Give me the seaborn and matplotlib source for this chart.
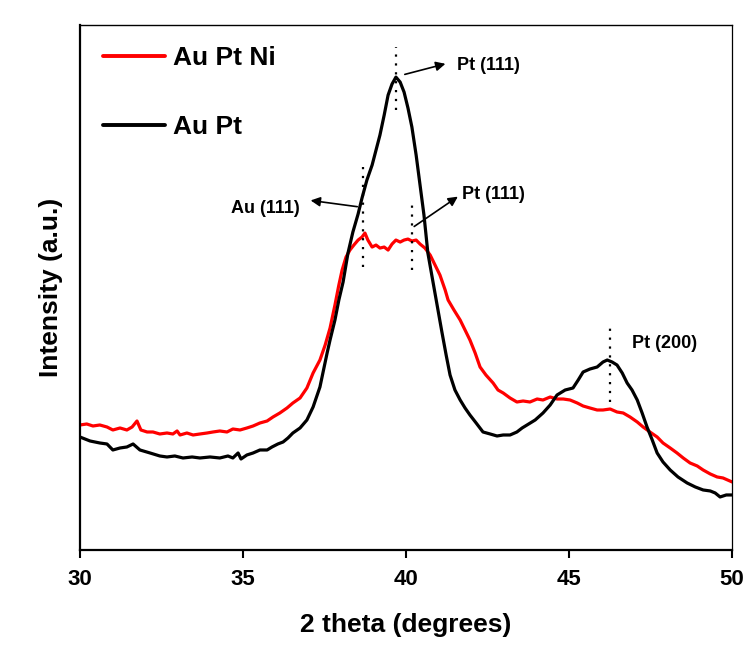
import numpy as np
import pandas as pd
import matplotlib
matplotlib.use('Agg')
import matplotlib.pyplot as plt
import seaborn as sns

# XRD patterns (intensity in arbitrary units)
theta_aupt = [30.00, 30.31, 30.61, 30.83, 31.01, 31.23, 31.44, 31.63, 31.84, 32.15,
              32.45, 32.67, 32.91, 33.16, 33.44, 33.68, 33.99, 34.29, 34.54, 34.69,
              34.85, 34.94, 35.12, 35.31, 35.52, 35.74, 35.89, 36.07, 36.23, 36.38,
              36.53, 36.75, 36.96, 37.15, 37.36, 37.58, 37.67, 37.82, 37.94, 38.07,
              38.22, 38.37, 38.53, 38.65, 38.80, 38.96, 39.08, 39.20, 39.33, 39.45,
              39.57, 39.69, 39.82, 39.94, 40.06, 40.18, 40.31, 40.43, 40.55, 40.67,
              40.80, 40.92, 40.98, 41.10, 41.23, 41.35, 41.50, 41.66, 41.81, 41.96,
              42.15, 42.36, 42.58, 42.79, 42.98, 43.19, 43.40, 43.56, 43.71, 43.96,
              44.20, 44.42, 44.63, 44.88, 45.12, 45.28, 45.43, 45.64, 45.86, 46.04,
              46.17, 46.32, 46.47, 46.63, 46.78, 46.93, 47.09, 47.24, 47.39, 47.55,
              47.70, 47.88, 48.10, 48.34, 48.62, 48.87, 49.11, 49.33, 49.48, 49.63,
              49.82, 50.00]
int_aupt = [113, 109, 107, 106, 100, 102, 103, 106, 100, 97,
            94, 93, 94, 92, 93, 92, 93, 92, 94, 92,
            97, 91, 95, 97, 100, 100, 103, 106, 108, 112,
            117, 122, 130, 143, 163, 197, 210, 230, 250, 268,
            297, 318, 336, 352, 370, 385, 400, 415, 435, 455,
            466, 473, 468, 458, 442, 423, 395, 365, 335, 297,
            273, 251, 240, 218, 195, 175, 160, 150, 142, 135,
            127, 118, 116, 114, 115, 115, 118, 122, 125, 130,
            137, 145, 155, 160, 162, 170, 178, 181, 183, 188,
            190, 188, 185, 177, 167, 160, 150, 137, 123, 110,
            97, 88, 80, 73, 67, 63, 60, 59, 57, 53,
            55, 55]

theta_auptni = [30.00, 30.21, 30.40, 30.61, 30.83, 31.01, 31.23, 31.44, 31.60, 31.75,
                31.87, 32.06, 32.24, 32.45, 32.67, 32.85, 32.98, 33.07, 33.28, 33.47,
                33.68, 33.90, 34.08, 34.29, 34.51, 34.69, 34.91, 35.12, 35.31, 35.52,
                35.74, 35.92, 36.13, 36.35, 36.53, 36.75, 36.96, 37.15, 37.36, 37.52,
                37.67, 37.82, 37.94, 38.04, 38.16, 38.28, 38.40, 38.53, 38.65, 38.74,
                38.83, 38.96, 39.08, 39.20, 39.33, 39.45, 39.57, 39.69, 39.82, 39.94,
                40.06, 40.18, 40.31, 40.43, 40.58, 40.74, 40.89, 41.04, 41.20, 41.29,
                41.47, 41.66, 41.81, 41.96, 42.12, 42.27, 42.45, 42.67, 42.82, 42.98,
                43.19, 43.40, 43.59, 43.80, 44.02, 44.20, 44.42, 44.63, 44.82, 45.03,
                45.25, 45.43, 45.64, 45.86, 46.04, 46.26, 46.47, 46.66, 46.87, 47.09,
                47.27, 47.48, 47.70, 47.88, 48.10, 48.31, 48.50, 48.71, 48.93, 49.11,
                49.33, 49.54, 49.72, 50.00]
int_auptni = [125, 126, 124, 125, 123, 120, 122, 120, 123, 129,
              120, 118, 118, 116, 117, 116, 119, 115, 117, 115,
              116, 117, 118, 119, 118, 121, 120, 122, 124, 127,
              129, 133, 137, 142, 147, 152, 162, 177, 190, 205,
              222, 245, 265, 280, 293, 300, 305, 310, 313, 317,
              310, 303, 305, 302, 303, 300, 306, 310, 308, 310,
              311, 309, 310, 306, 302, 295, 285, 275, 260, 250,
              240, 230, 220, 210, 197, 183, 175, 167, 160, 157,
              152, 148, 149, 148, 151, 150, 153, 151, 151, 150,
              147, 144, 142, 140, 140, 141, 138, 137, 133, 128,
              123, 118, 113, 107, 102, 97, 92, 87, 84, 80,
              76, 73, 72, 68]

series_names = ['Au Pt Ni', 'Au Pt']
series_colors = ['#ff0000', '#000000']

# dotted guide lines at the peaks: (x, y bottom, y top)
peak_lines = [(39.69, 440, 503), (38.68, 283, 383), (40.18, 280, 345), (46.26, 148, 225)]
peak_labels = ['Pt (111)', 'Au (111)', 'Pt (111)', 'Pt (200)']

df = pd.concat([
    pd.DataFrame({'theta': theta_auptni, 'intensity': int_auptni, 'sample': 'Au Pt Ni'}),
    pd.DataFrame({'theta': theta_aupt, 'intensity': int_aupt, 'sample': 'Au Pt'}),
])

sns.set_style('ticks')
plt.rcParams['font.family'] = ['Liberation Sans', 'DejaVu Sans']
plt.rcParams['font.weight'] = 'bold'
plt.rcParams['text.color'] = 'black'
plt.rcParams['axes.labelcolor'] = 'black'
plt.rcParams['xtick.color'] = 'black'
plt.rcParams['ytick.color'] = 'black'

fig = plt.figure(figsize=(7.54, 6.61), dpi=100)
ax = fig.add_axes([0.106, 0.168, 0.865, 0.794])

sns.lineplot(data=df, x='theta', y='intensity', hue='sample', hue_order=series_names,
             palette=series_colors, estimator=None, sort=False, linewidth=2.3, ax=ax)

for xp, y0, y1 in peak_lines:
    ax.plot([xp, xp], [y0, y1], color='black', linestyle=(0, (1, 3)), linewidth=1.6)

arrow = dict(arrowstyle='-|>', color='black', lw=1.2, mutation_scale=14)
tsize = 13
ax.annotate('', xy=(41.29, 487), xytext=(39.88, 475), arrowprops=arrow)
ax.text(41.56, 485, peak_labels[0], fontsize=tsize, fontweight='bold', va='center', ha='left')
ax.annotate('', xy=(36.99, 350), xytext=(38.59, 343), arrowprops=arrow)
ax.text(36.75, 342, peak_labels[1], fontsize=tsize, fontweight='bold', va='center', ha='right')
ax.annotate('', xy=(41.66, 355), xytext=(40.18, 322), arrowprops=arrow)
ax.text(41.72, 356, peak_labels[2], fontsize=tsize, fontweight='bold', va='center', ha='left')
ax.text(46.93, 207, peak_labels[3], fontsize=tsize, fontweight='bold', va='center', ha='left')

ax.set_xlim(30, 50)
ax.set_ylim(0, 525)
ax.set_xticks([30, 35, 40, 45, 50])
ax.set_yticks([])
ax.tick_params(axis='x', direction='out', length=6, width=1.5, labelsize=16, pad=8)
for lab in ax.get_xticklabels():
    lab.set_fontweight('bold')

ax.set_xlabel('2 theta (degrees)', fontsize=19, fontweight='bold', labelpad=16)
ax.set_ylabel('Intensity (a.u.)', fontsize=19, fontweight='bold', labelpad=12)

for side, w in [('left', 1.6), ('bottom', 1.6), ('top', 1.0), ('right', 0.9)]:
    ax.spines[side].set_linewidth(w)
    ax.spines[side].set_color('black')

handles, labels = ax.get_legend_handles_labels()
leg = ax.legend(handles, labels, loc='upper left', bbox_to_anchor=(0.035, 0.96),
                frameon=False, fontsize=19, handlelength=2.35, handletextpad=0.3,
                labelspacing=1.7, borderpad=0, borderaxespad=0)
for t in leg.get_texts():
    t.set_fontweight('bold')
for l in leg.get_lines():
    l.set_linewidth(2.8)

fig.savefig('out.png', dpi=100, facecolor='white')
